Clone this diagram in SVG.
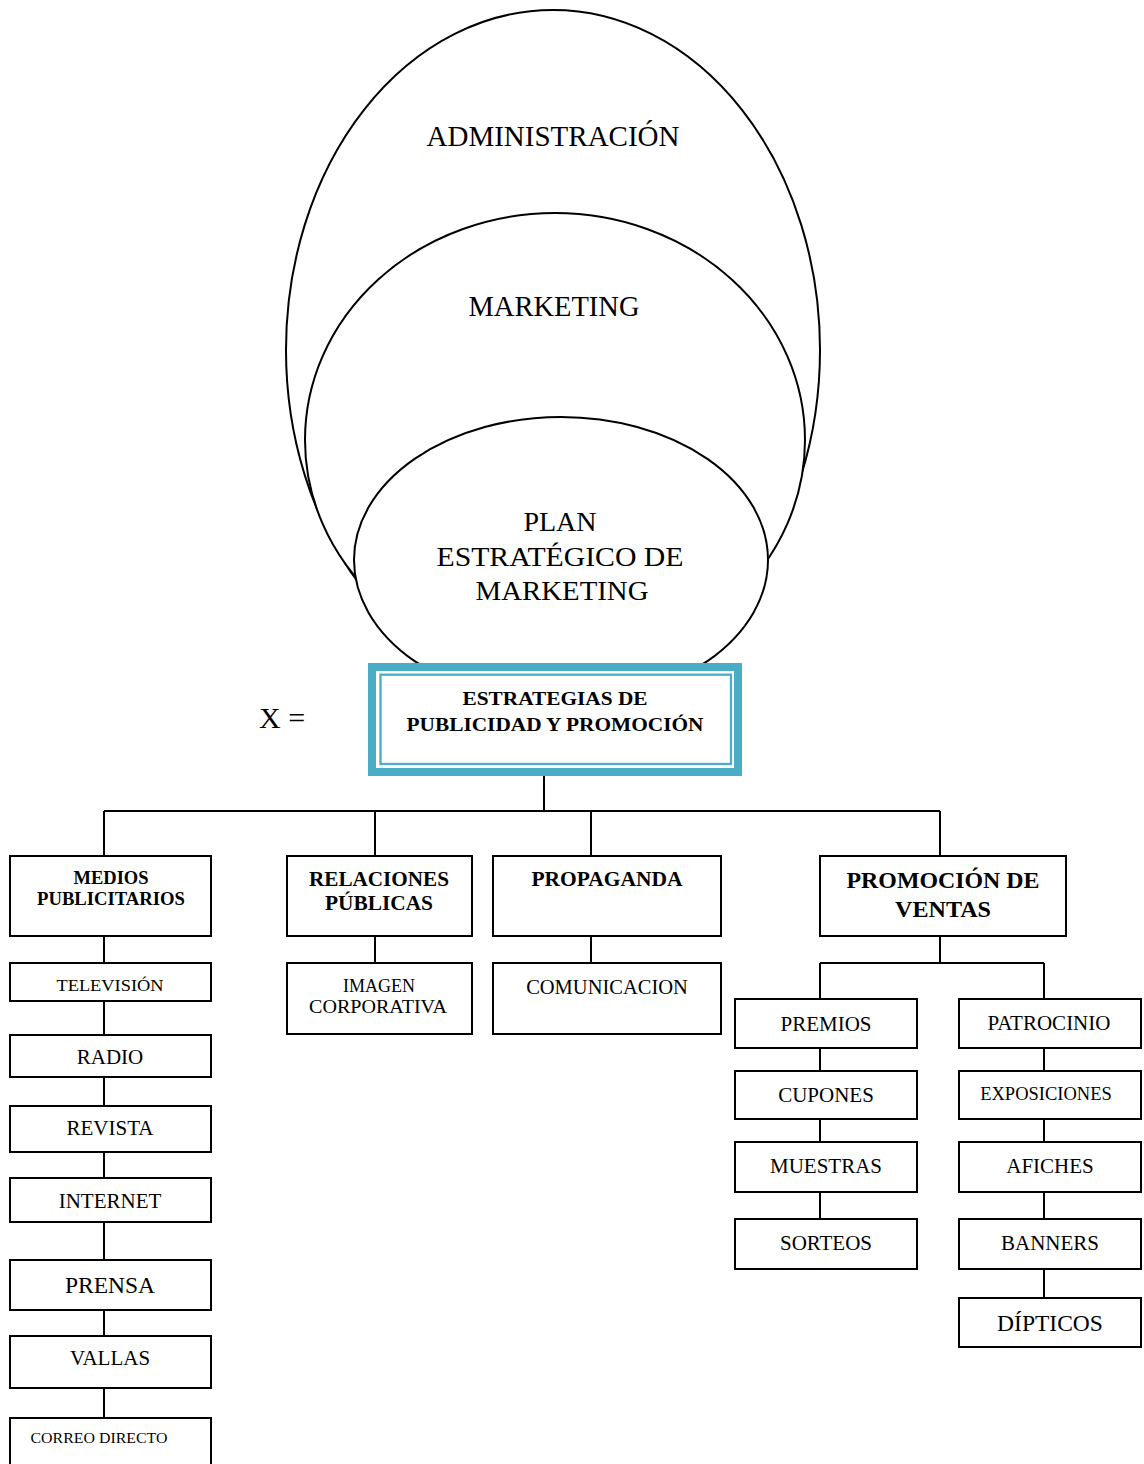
<svg xmlns="http://www.w3.org/2000/svg" width="1144" height="1464" viewBox="0 0 1144 1464">
  <style>
    .ell { fill: #ffffff; stroke: #000000; stroke-width: 2; }
    .box { fill: #ffffff; stroke: #000000; stroke-width: 2; }
    .t { font-family: "Liberation Serif", "Times New Roman", serif; text-anchor: middle; fill: #000000; }
    .b { font-weight: bold; }
    .wire { fill: none; stroke: #000000; stroke-width: 2; }
    .teal { fill: none; stroke: #4BACC6; }
  </style>
  <rect x="0" y="0" width="1144" height="1464" fill="#ffffff"/>

  <!-- nested ellipses -->
  <g id="administracion">
    <ellipse class="ell" cx="553" cy="350" rx="267" ry="340"/>
    <text class="t" x="553" y="146" font-size="29">ADMINISTRACIÓN</text>
  </g>
  <g id="marketing">
    <ellipse class="ell" cx="555" cy="440" rx="250" ry="227"/>
    <text class="t" x="554" y="316" font-size="28.5">MARKETING</text>
  </g>
  <g id="plan">
    <ellipse class="ell" cx="561" cy="560" rx="207" ry="143"/>
    <text class="t" x="560" y="531" font-size="28">PLAN</text>
    <text class="t" x="560" y="566" font-size="28" textLength="247" lengthAdjust="spacingAndGlyphs">ESTRATÉGICO DE</text>
    <text class="t" x="562" y="600" font-size="28" textLength="173" lengthAdjust="spacingAndGlyphs">MARKETING</text>
  </g>

  <g id="x-label">
    <text x="259" y="728" font-size="30" font-family="Liberation Serif, serif">X =</text>
  </g>

  <!-- central framed box -->
  <g id="estrategias">
    <rect x="368" y="663" width="374" height="113" fill="#ffffff"/>
    <rect class="teal" x="372" y="667" width="366" height="105" stroke-width="8"/>
    <rect class="teal" x="380.5" y="674.7" width="350.5" height="89.3" stroke-width="2.3"/>
    <text class="t b" x="555" y="705" font-size="18.5" textLength="185" lengthAdjust="spacingAndGlyphs">ESTRATEGIAS DE</text>
    <text class="t b" x="555" y="731" font-size="18.5" textLength="297" lengthAdjust="spacingAndGlyphs">PUBLICIDAD Y PROMOCIÓN</text>
  </g>

  <!-- connectors -->
  <g id="connectors" class="wire">
    <path d="M544 776 V811 M104 811 H940 M104 811 V856 M375 811 V856 M591 811 V856 M940 811 V856"/>
    <path d="M104 936 V963 M104 1001 V1035 M104 1077 V1106 M104 1152 V1178 M104 1222 V1260 M104 1310 V1336 M104 1388 V1418"/>
    <path d="M375 936 V963"/>
    <path d="M591 936 V963"/>
    <path d="M940 936 V963 M820 963 H1044 M820 963 V999 M1044 963 V999"/>
    <path d="M820 1048 V1071 M820 1119 V1142 M820 1192 V1219"/>
    <path d="M1044 1048 V1071 M1044 1119 V1142 M1044 1192 V1219 M1044 1269 V1298"/>
  </g>

  <!-- first level -->
  <g id="medios">
    <rect class="box" x="10" y="856" width="201" height="80"/>
    <text class="t b" x="111" y="884" font-size="18.5">MEDIOS</text>
    <text class="t b" x="111" y="905" font-size="18.5" textLength="148" lengthAdjust="spacingAndGlyphs">PUBLICITARIOS</text>
  </g>
  <g id="relaciones">
    <rect class="box" x="287" y="856" width="185" height="80"/>
    <text class="t b" x="379" y="886" font-size="20" textLength="140" lengthAdjust="spacingAndGlyphs">RELACIONES</text>
    <text class="t b" x="379" y="910" font-size="20" textLength="108" lengthAdjust="spacingAndGlyphs">PÚBLICAS</text>
  </g>
  <g id="propaganda">
    <rect class="box" x="493" y="856" width="228" height="80"/>
    <text class="t b" x="607" y="886" font-size="20" textLength="151" lengthAdjust="spacingAndGlyphs">PROPAGANDA</text>
  </g>
  <g id="promocion">
    <rect class="box" x="820" y="856" width="246" height="80"/>
    <text class="t b" x="943" y="888" font-size="23.5" textLength="193" lengthAdjust="spacingAndGlyphs">PROMOCIÓN DE</text>
    <text class="t b" x="943" y="917" font-size="23.5" textLength="96" lengthAdjust="spacingAndGlyphs">VENTAS</text>
  </g>

  <!-- advertising media -->
  <g id="television">
    <rect class="box" x="10" y="963" width="201" height="38"/>
    <text class="t" x="110" y="991" font-size="17.5" textLength="107" lengthAdjust="spacingAndGlyphs">TELEVISIÓN</text>
  </g>
  <g id="radio">
    <rect class="box" x="10" y="1035" width="201" height="42"/>
    <text class="t" x="110" y="1064" font-size="21">RADIO</text>
  </g>
  <g id="revista">
    <rect class="box" x="10" y="1106" width="201" height="46"/>
    <text class="t" x="110" y="1135" font-size="21">REVISTA</text>
  </g>
  <g id="internet">
    <rect class="box" x="10" y="1178" width="201" height="44"/>
    <text class="t" x="110" y="1208" font-size="21">INTERNET</text>
  </g>
  <g id="prensa">
    <rect class="box" x="10" y="1260" width="201" height="50"/>
    <text class="t" x="110" y="1293" font-size="23.5">PRENSA</text>
  </g>
  <g id="vallas">
    <rect class="box" x="10" y="1336" width="201" height="52"/>
    <text class="t" x="110" y="1365" font-size="21">VALLAS</text>
  </g>
  <g id="correo">
    <rect class="box" x="10" y="1418" width="201" height="60"/>
    <text class="t" x="99" y="1443" font-size="14" textLength="137" lengthAdjust="spacingAndGlyphs">CORREO DIRECTO</text>
  </g>

  <!-- public relations / propaganda -->
  <g id="imagen">
    <rect class="box" x="287" y="963" width="185" height="71"/>
    <text class="t" x="379" y="992" font-size="18" textLength="72" lengthAdjust="spacingAndGlyphs">IMAGEN</text>
    <text class="t" x="378" y="1013" font-size="18" textLength="138" lengthAdjust="spacingAndGlyphs">CORPORATIVA</text>
  </g>
  <g id="comunicacion">
    <rect class="box" x="493" y="963" width="228" height="71"/>
    <text class="t" x="607" y="994" font-size="20.5">COMUNICACION</text>
  </g>

  <!-- sales promotion -->
  <g id="premios">
    <rect class="box" x="735" y="999" width="182" height="49"/>
    <text class="t" x="826" y="1031" font-size="21">PREMIOS</text>
  </g>
  <g id="cupones">
    <rect class="box" x="735" y="1071" width="182" height="48"/>
    <text class="t" x="826" y="1102" font-size="21">CUPONES</text>
  </g>
  <g id="muestras">
    <rect class="box" x="735" y="1142" width="182" height="50"/>
    <text class="t" x="826" y="1173" font-size="21">MUESTRAS</text>
  </g>
  <g id="sorteos">
    <rect class="box" x="735" y="1219" width="182" height="50"/>
    <text class="t" x="826" y="1250" font-size="21">SORTEOS</text>
  </g>
  <g id="patrocinio">
    <rect class="box" x="959" y="999" width="182" height="49"/>
    <text class="t" x="1049" y="1030" font-size="21">PATROCINIO</text>
  </g>
  <g id="exposiciones">
    <rect class="box" x="959" y="1071" width="182" height="48"/>
    <text class="t" x="1046" y="1100" font-size="18.5">EXPOSICIONES</text>
  </g>
  <g id="afiches">
    <rect class="box" x="959" y="1142" width="182" height="50"/>
    <text class="t" x="1050" y="1173" font-size="21">AFICHES</text>
  </g>
  <g id="banners">
    <rect class="box" x="959" y="1219" width="182" height="50"/>
    <text class="t" x="1050" y="1250" font-size="21">BANNERS</text>
  </g>
  <g id="dipticos">
    <rect class="box" x="959" y="1298" width="182" height="49"/>
    <text class="t" x="1050" y="1331" font-size="23.5">DÍPTICOS</text>
  </g>
</svg>
